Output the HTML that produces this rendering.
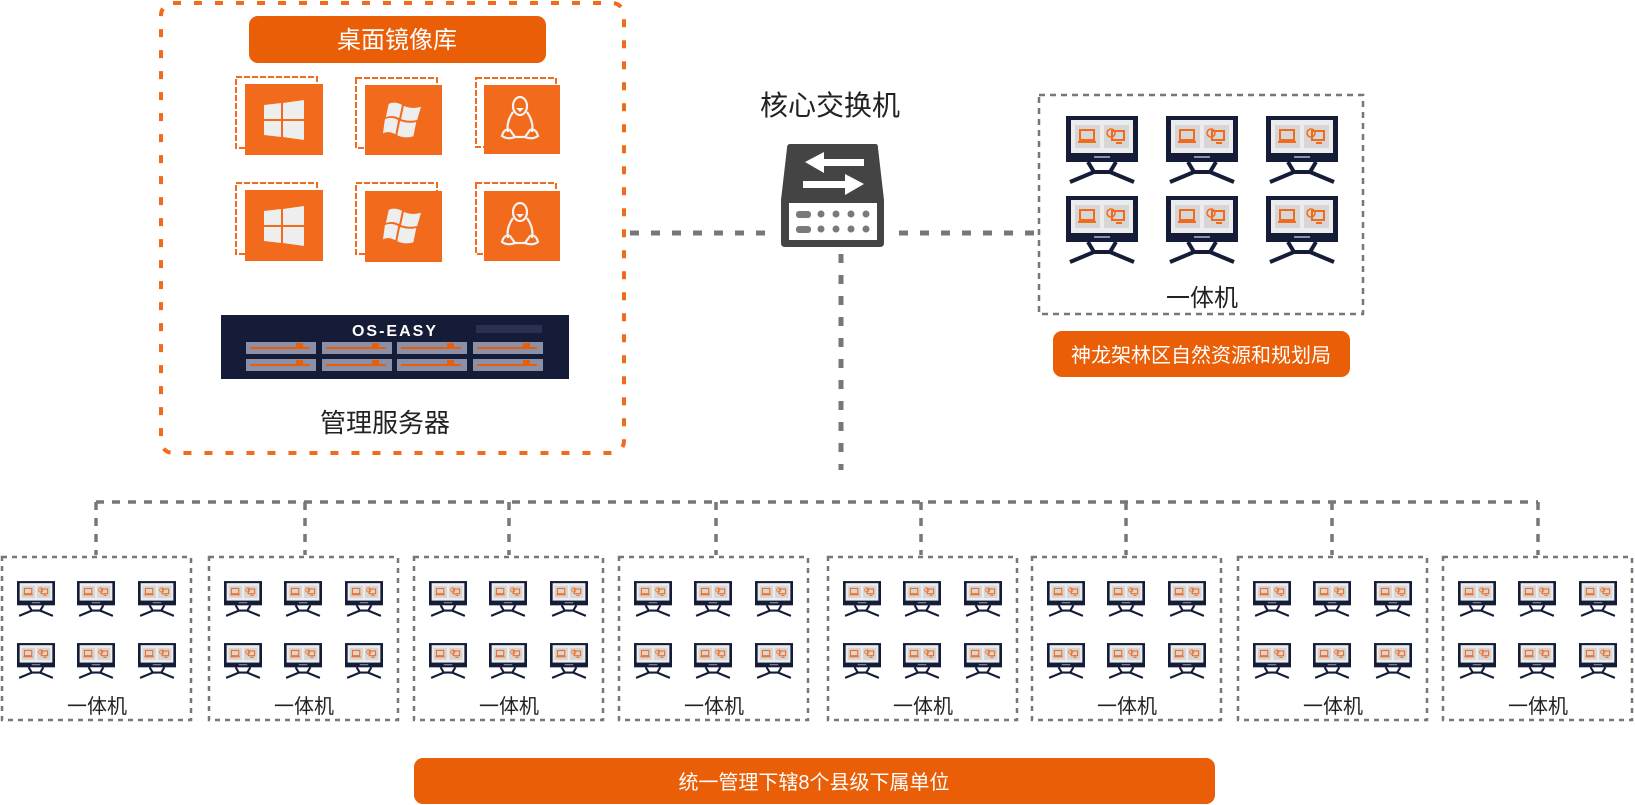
<!DOCTYPE html>
<html><head><meta charset="utf-8"><style>
html,body{margin:0;padding:0;background:#fff}
svg{display:block}
text{font-family:"Liberation Sans","Noto Sans CJK SC",sans-serif}
</style></head><body>
<svg width="1635" height="805" viewBox="0 0 1635 805" xmlns="http://www.w3.org/2000/svg">
<defs>
<symbol id="mon" viewBox="0 0 72 68">
 <rect x="0" y="0" width="72" height="46" fill="#141c38"/>
 <rect x="5" y="4" width="62" height="33" fill="#ececec"/>
 <rect x="9" y="9" width="25" height="23" fill="#d6d6d6"/>
 <rect x="38" y="9" width="25" height="23" fill="#d6d6d6"/>
 <rect x="14" y="14" width="14" height="10" fill="none" stroke="#f26a1b" stroke-width="2"/>
 <rect x="12" y="25" width="18" height="2" fill="#f26a1b"/>
 <circle cx="45" cy="17" r="4" fill="none" stroke="#f26a1b" stroke-width="1.5"/>
 <rect x="46" y="15" width="12" height="9" fill="none" stroke="#f26a1b" stroke-width="2"/>
 <rect x="50" y="26" width="6" height="2" fill="#f26a1b"/>
 <rect x="28" y="40" width="16" height="2" fill="#8893b0"/>
 <path d="M22 46 L28 56 L44 56 L50 46" fill="none" stroke="#141c38" stroke-width="4"/>
 <path d="M4 66 L28 56 M68 66 L44 56" stroke="#141c38" stroke-width="4"/>
</symbol>
<symbol id="win" viewBox="0 0 40 40">
 <path d="M0 5 L17 3 V19 H0Z M19 3 L40 0 V19 H19Z M0 21 H17 V37 L0 35Z M19 21 H40 V40 L19 37Z" fill="#eeeeee"/>
</symbol>
<symbol id="xp" viewBox="0 0 40 40">
 <path d="M6 2 Q12 -1 20 3 L17 17 Q10 13 3 16Z M22 4 Q30 8 40 5 L36 19 Q28 21 19 18Z M2 18 Q9 15 16 19 L13 34 Q6 30 0 33Z M18 20 Q27 23 35 21 L32 36 Q24 39 15 35Z" fill="#eeeeee"/>
</symbol>
<symbol id="tux" viewBox="0 0 40 44">
 <g fill="none" stroke="#f4f4f4" stroke-width="2.2">
 <ellipse cx="20" cy="10" rx="7" ry="9"/>
 <path d="M13 16 Q6 26 8 36 M27 16 Q34 26 32 36"/>
 <path d="M2 40 Q4 32 10 34 L15 41 Q8 44 2 40Z M38 40 Q36 32 30 34 L25 41 Q32 44 38 40Z"/>
 <path d="M15 41 H25"/>
 </g>
 <path d="M16 12 L24 12 L20 16Z" fill="#f4f4f4"/>
</symbol>
</defs>

<!-- orange dashed frame -->
<rect x="161" y="3" width="463" height="450" rx="12" fill="none" stroke="#f26a1b" stroke-width="4" stroke-dasharray="8 13"/>
<rect x="249" y="16" width="297" height="47" rx="9" fill="#e95e07"/>
<text x="397" y="48" font-size="24" fill="#fff" text-anchor="middle">桌面镜像库</text>

<!-- OS icons -->
<g>
 <rect x="236" y="77" width="81" height="71" fill="none" stroke="#f26a1b" stroke-width="2" stroke-dasharray="6 2"/>
 <rect x="245" y="84" width="78" height="71" fill="#f26a1b"/>
 <use href="#win" x="264" y="100" width="40" height="40"/>
 <rect x="356" y="78" width="81" height="70" fill="none" stroke="#f26a1b" stroke-width="2" stroke-dasharray="6 2"/>
 <rect x="365" y="85" width="77" height="70" fill="#f26a1b"/>
 <use href="#xp" x="382" y="102" width="40" height="38"/>
 <rect x="476" y="78" width="80" height="69" fill="none" stroke="#f26a1b" stroke-width="2" stroke-dasharray="6 2"/>
 <rect x="484" y="85" width="76" height="69" fill="#f26a1b"/>
 <use href="#tux" x="500" y="96" width="40" height="44"/>

 <rect x="236" y="183" width="81" height="71" fill="none" stroke="#f26a1b" stroke-width="2" stroke-dasharray="6 2"/>
 <rect x="245" y="190" width="78" height="71" fill="#f26a1b"/>
 <use href="#win" x="264" y="206" width="40" height="40"/>
 <rect x="356" y="183" width="81" height="71" fill="none" stroke="#f26a1b" stroke-width="2" stroke-dasharray="6 2"/>
 <rect x="365" y="191" width="77" height="71" fill="#f26a1b"/>
 <use href="#xp" x="382" y="208" width="40" height="38"/>
 <rect x="476" y="183" width="80" height="71" fill="none" stroke="#f26a1b" stroke-width="2" stroke-dasharray="6 2"/>
 <rect x="484" y="191" width="76" height="70" fill="#f26a1b"/>
 <use href="#tux" x="500" y="202" width="40" height="44"/>
</g>

<!-- server -->
<rect x="221" y="315" width="348" height="64" fill="#141c38"/>
<text x="395" y="336" font-size="16" font-weight="bold" fill="#fff" text-anchor="middle" letter-spacing="2">OS-EASY</text>
<g fill="#8a90a8">
 <rect x="246" y="342" width="70" height="12"/><rect x="322" y="342" width="70" height="12"/><rect x="397" y="342" width="70" height="12"/><rect x="473" y="342" width="70" height="12"/>
 <rect x="246" y="359" width="70" height="12"/><rect x="322" y="359" width="70" height="12"/><rect x="397" y="359" width="70" height="12"/><rect x="473" y="359" width="70" height="12"/>
</g>
<g fill="#e95e07">
 <rect x="250" y="347" width="60" height="2"/><rect x="326" y="347" width="60" height="2"/><rect x="401" y="347" width="60" height="2"/><rect x="477" y="347" width="60" height="2"/>
 <rect x="250" y="364" width="60" height="2"/><rect x="326" y="364" width="60" height="2"/><rect x="401" y="364" width="60" height="2"/><rect x="477" y="364" width="60" height="2"/>
 <rect x="296" y="343" width="7" height="6"/><rect x="372" y="343" width="7" height="6"/><rect x="447" y="343" width="7" height="6"/><rect x="523" y="343" width="7" height="6"/>
 <rect x="296" y="360" width="7" height="6"/><rect x="372" y="360" width="7" height="6"/><rect x="447" y="360" width="7" height="6"/><rect x="523" y="360" width="7" height="6"/>
</g>
<rect x="476" y="325" width="66" height="8" fill="#2a3050"/>
<text x="385" y="432" font-size="26" fill="#222" text-anchor="middle">管理服务器</text>

<!-- switch -->
<text x="830" y="115" font-size="28" fill="#222" text-anchor="middle">核心交换机</text>
<path d="M790 144 H876 Q878 144 878 148 L884 200 V243 Q884 247 880 247 H785 Q781 247 781 243 V200 L787 148 Q787 144 790 144Z" fill="#444"/>
<rect x="789" y="203" width="88" height="37" fill="#fff"/>
<path d="M805 162 L824 152 V159 H864 V166 H824 V173Z M864 184 L845 174 V181 H803 V188 H845 V195Z" fill="#fff"/>
<g fill="#7a7a7a">
 <rect x="796" y="211" width="15" height="7" rx="3"/><rect x="796" y="226" width="15" height="7" rx="3"/>
 <circle cx="821" cy="214" r="3.5"/><circle cx="836" cy="214" r="3.5"/><circle cx="851" cy="214" r="3.5"/><circle cx="866" cy="214" r="3.5"/>
 <circle cx="821" cy="229" r="3.5"/><circle cx="836" cy="229" r="3.5"/><circle cx="851" cy="229" r="3.5"/><circle cx="866" cy="229" r="3.5"/>
</g>

<!-- connectors -->
<g stroke="#777" stroke-width="5" stroke-dasharray="9 12" fill="none">
 <path d="M630 233 H768"/>
 <path d="M899 233 H1038"/>
 <path d="M841 254 V470"/>
</g>
<g stroke="#777" stroke-width="3.5" stroke-dasharray="8 8" fill="none">
 <path d="M96 502 H1538"/>
 <path d="M96 502 V555 M305 502 V555 M509 502 V555 M716 502 V555 M921 502 V555 M1126 502 V555 M1332 502 V555 M1538 502 V555"/>
</g>

<!-- right box -->
<rect x="1039" y="95" width="324" height="219" fill="none" stroke="#777" stroke-width="2.5" stroke-dasharray="6 5"/>
<use href="#mon" x="1066" y="116" width="72" height="68"/>
<use href="#mon" x="1166" y="116" width="72" height="68"/>
<use href="#mon" x="1266" y="116" width="72" height="68"/>
<use href="#mon" x="1066" y="196" width="72" height="68"/>
<use href="#mon" x="1166" y="196" width="72" height="68"/>
<use href="#mon" x="1266" y="196" width="72" height="68"/>
<text x="1202" y="306" font-size="24" fill="#222" text-anchor="middle">一体机</text>
<rect x="1053" y="331" width="297" height="46" rx="9" fill="#e95e07"/>
<text x="1201" y="362" font-size="20" fill="#fff" text-anchor="middle">神龙架林区自然资源和规划局</text>

<!-- bottom boxes -->
<g id="bx">
 <rect x="2" y="557" width="189" height="163" fill="none" stroke="#777" stroke-width="2.5" stroke-dasharray="5 5"/>
 <use href="#mon" x="17" y="581" width="38" height="36"/>
 <use href="#mon" x="77" y="581" width="38" height="36"/>
 <use href="#mon" x="138" y="581" width="38" height="36"/>
 <use href="#mon" x="17" y="643" width="38" height="36"/>
 <use href="#mon" x="77" y="643" width="38" height="36"/>
 <use href="#mon" x="138" y="643" width="38" height="36"/>
 <text x="97" y="713" font-size="20" fill="#222" text-anchor="middle">一体机</text>
</g>
<use href="#bx" x="207"/>
<use href="#bx" x="412"/>
<use href="#bx" x="617"/>
<use href="#bx" x="826"/>
<use href="#bx" x="1030"/>
<use href="#bx" x="1236"/>
<use href="#bx" x="1441"/>

<rect x="414" y="758" width="801" height="46" rx="9" fill="#e95e07"/>
<text x="814" y="789" font-size="20" fill="#fff" text-anchor="middle">统一管理下辖8个县级下属单位</text>
</svg>
</body></html>
